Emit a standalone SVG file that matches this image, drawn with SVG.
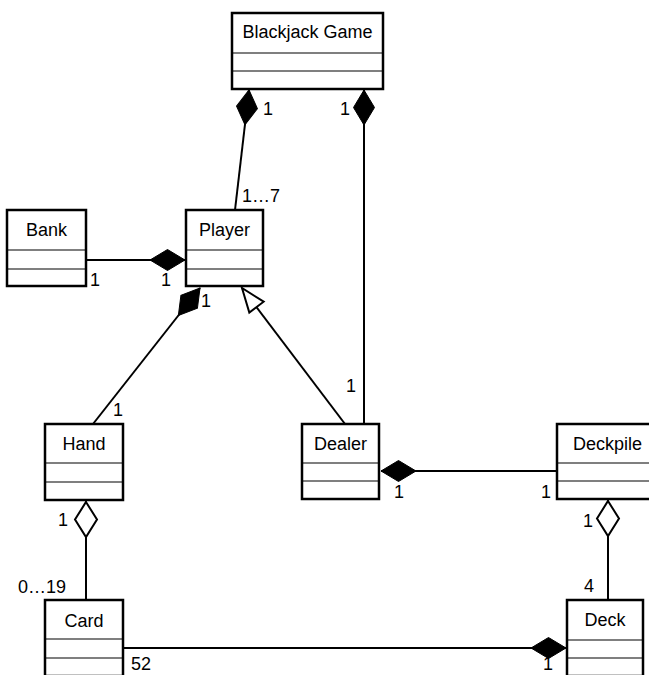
<svg xmlns="http://www.w3.org/2000/svg" width="649" height="675" viewBox="0 0 649 675">
<style>
.box{fill:#fff;stroke:#000;stroke-width:2.5}
.div{stroke:#000;stroke-width:1.2}
.t{font-family:"Liberation Sans",Arial,Helvetica,sans-serif;font-size:18px;fill:#000}
.c{text-anchor:middle}
.ln{fill:none;stroke:#000;stroke-width:2}
</style>
<defs>
<marker id="comp" markerUnits="userSpaceOnUse" markerWidth="40" markerHeight="26" viewBox="-2 -13 40 26" refX="0" refY="0" orient="auto" overflow="visible">
<path d="M0,0 L17.5,-10.5 L35,0 L17.5,10.5 Z" fill="#000" stroke="#000" stroke-width="1"/>
</marker>
<marker id="agg" markerUnits="userSpaceOnUse" markerWidth="40" markerHeight="28" viewBox="-2 -14 40 28" refX="0" refY="0" orient="auto" overflow="visible">
<path d="M1,0 L18.5,-11 L36,0 L18.5,11 Z" fill="#fff" stroke="#000" stroke-width="2"/>
</marker>
<marker id="inh" markerUnits="userSpaceOnUse" markerWidth="30" markerHeight="24" viewBox="-28 -12 30 24" refX="0" refY="0" orient="auto" overflow="visible">
<path d="M0,0 L-24,-9 L-24,9 Z" fill="#fff" stroke="#000" stroke-width="2"/>
</marker>
</defs>
<rect width="649" height="675" fill="#fff"/>

<g id="connectors">
<path class="ln" d="M249,90 L235,210" marker-start="url(#comp)"/>
<path class="ln" d="M364,90 L364,424" marker-start="url(#comp)"/>
<path class="ln" d="M185,260 L87,260" marker-start="url(#comp)"/>
<path class="ln" d="M200,288 L93,424" marker-start="url(#comp)"/>
<path class="ln" d="M345,424 L242,288" marker-end="url(#inh)"/>
<path class="ln" d="M381,471 L557,471" marker-start="url(#comp)"/>
<path class="ln" d="M86,501 L86,600" marker-start="url(#agg)"/>
<path class="ln" d="M608,500 L608,600" marker-start="url(#agg)"/>
<path class="ln" d="M566,648 L124,648" marker-start="url(#comp)"/>
</g>

<g id="labels">
<text class="t" x="263" y="115">1</text>
<text class="t" x="340" y="115">1</text>
<text class="t" x="242" y="202">1…7</text>
<text class="t" x="90" y="286">1</text>
<text class="t" x="161" y="286">1</text>
<text class="t" x="201" y="307">1</text>
<text class="t" x="113" y="416">1</text>
<text class="t" x="346" y="392">1</text>
<text class="t" x="394" y="498">1</text>
<text class="t" x="541" y="498">1</text>
<text class="t" x="58" y="526">1</text>
<text class="t" x="18" y="593">0…19</text>
<text class="t" x="583" y="527">1</text>
<text class="t" x="584" y="592">4</text>
<text class="t" x="131" y="670">52</text>
<text class="t" x="543" y="670">1</text>
</g>

<g id="blackjack-game">
<rect class="box" x="232" y="13" width="151" height="76"/>
<line class="div" x1="232" y1="53" x2="383" y2="53"/>
<line class="div" x1="232" y1="71" x2="383" y2="71"/>
<text class="t c" x="307.5" y="38">Blackjack Game</text>
</g>

<g id="bank">
<rect class="box" x="7" y="210" width="79" height="76"/>
<line class="div" x1="7" y1="250" x2="86" y2="250"/>
<line class="div" x1="7" y1="269" x2="86" y2="269"/>
<text class="t c" x="46.5" y="236">Bank</text>
</g>

<g id="player">
<rect class="box" x="186" y="210" width="77" height="76"/>
<line class="div" x1="186" y1="250" x2="263" y2="250"/>
<line class="div" x1="186" y1="269" x2="263" y2="269"/>
<text class="t c" x="224.5" y="236">Player</text>
</g>

<g id="hand">
<rect class="box" x="45" y="424" width="78" height="76"/>
<line class="div" x1="45" y1="463" x2="123" y2="463"/>
<line class="div" x1="45" y1="482" x2="123" y2="482"/>
<text class="t c" x="84" y="450">Hand</text>
</g>

<g id="dealer">
<rect class="box" x="302" y="424" width="77" height="75"/>
<line class="div" x1="302" y1="463" x2="379" y2="463"/>
<line class="div" x1="302" y1="481" x2="379" y2="481"/>
<text class="t c" x="340.5" y="450">Dealer</text>
</g>

<g id="deckpile">
<rect class="box" x="557" y="424" width="101" height="75"/>
<line class="div" x1="557" y1="463" x2="658" y2="463"/>
<line class="div" x1="557" y1="481" x2="658" y2="481"/>
<text class="t c" x="607.5" y="450">Deckpile</text>
</g>

<g id="card">
<rect class="box" x="45" y="600" width="78" height="76"/>
<line class="div" x1="45" y1="639" x2="123" y2="639"/>
<line class="div" x1="45" y1="658" x2="123" y2="658"/>
<text class="t c" x="84" y="627">Card</text>
</g>

<g id="deck">
<rect class="box" x="567" y="600" width="76" height="76"/>
<line class="div" x1="567" y1="640" x2="643" y2="640"/>
<line class="div" x1="567" y1="658" x2="643" y2="658"/>
<text class="t c" x="605" y="626">Deck</text>
</g>
</svg>
